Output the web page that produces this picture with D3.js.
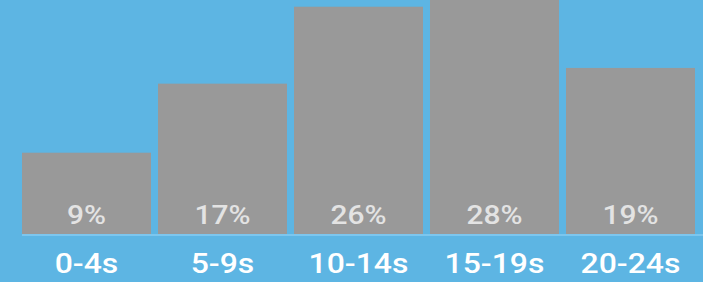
<!DOCTYPE html>
<html><head><meta charset="utf-8">
<script src="https://cdn.jsdelivr.net/npm/d3@7"></script>
<style>html,body{margin:0;padding:0;background:#5db5e3;overflow:hidden}</style>
</head><body>
<script>
const categories = ["0-4s", "5-9s", "10-14s", "15-19s", "20-24s"];
const values = [9.3, 17.2, 26.0, 28.3, 19.0];
const valueLabels = ["9%", "17%", "26%", "28%", "19%"];

const W = 703, H = 282, baseY = 234;
const svg = d3.select("body").append("svg").attr("width", W).attr("height", H);
svg.append("rect").attr("width", W).attr("height", H).attr("fill", "#5db5e3");

const x = d3.scaleBand().domain(categories).range([22, 695]).paddingInner(7/136).paddingOuter(0);
const y = d3.scaleLinear().domain([0, 26.77]).range([baseY, 0]);

svg.selectAll("rect.bar").data(values).join("rect").attr("class","bar")
  .attr("x", (d,i) => x(categories[i])).attr("width", x.bandwidth())
  .attr("y", d => y(d)).attr("height", d => baseY - y(d)).attr("fill", "#999999");

svg.append("line").attr("x1", 22).attr("x2", W).attr("y1", baseY + 1).attr("y2", baseY + 1)
  .attr("stroke", "#7cc6ee").attr("stroke-width", 2);

svg.selectAll("text.val").data(valueLabels).join("text").attr("class","val")
  .attr("transform", (d,i) => `translate(${x(categories[i]) + x.bandwidth()/2},224) scale(1.15,1)`)
  .attr("text-anchor", "middle").attr("fill", "#e3e3e3")
  .style("font-family", "Roboto").style("font-weight", 500).style("font-size", "26px")
  .text(d => d);

const xAxis = d3.axisBottom(x).tickSize(0).tickPadding(0);
const g = svg.append("g").attr("transform", `translate(0,${baseY})`).call(xAxis);
g.select(".domain").remove();
g.selectAll("text").attr("y", 0).attr("dy", null)
  .attr("transform", "translate(0,39) scale(1.12,1)")
  .attr("fill", "#ffffff").style("font-family", "Roboto").style("font-weight", 500).style("font-size", "28.5px");
</script>
</body></html>
